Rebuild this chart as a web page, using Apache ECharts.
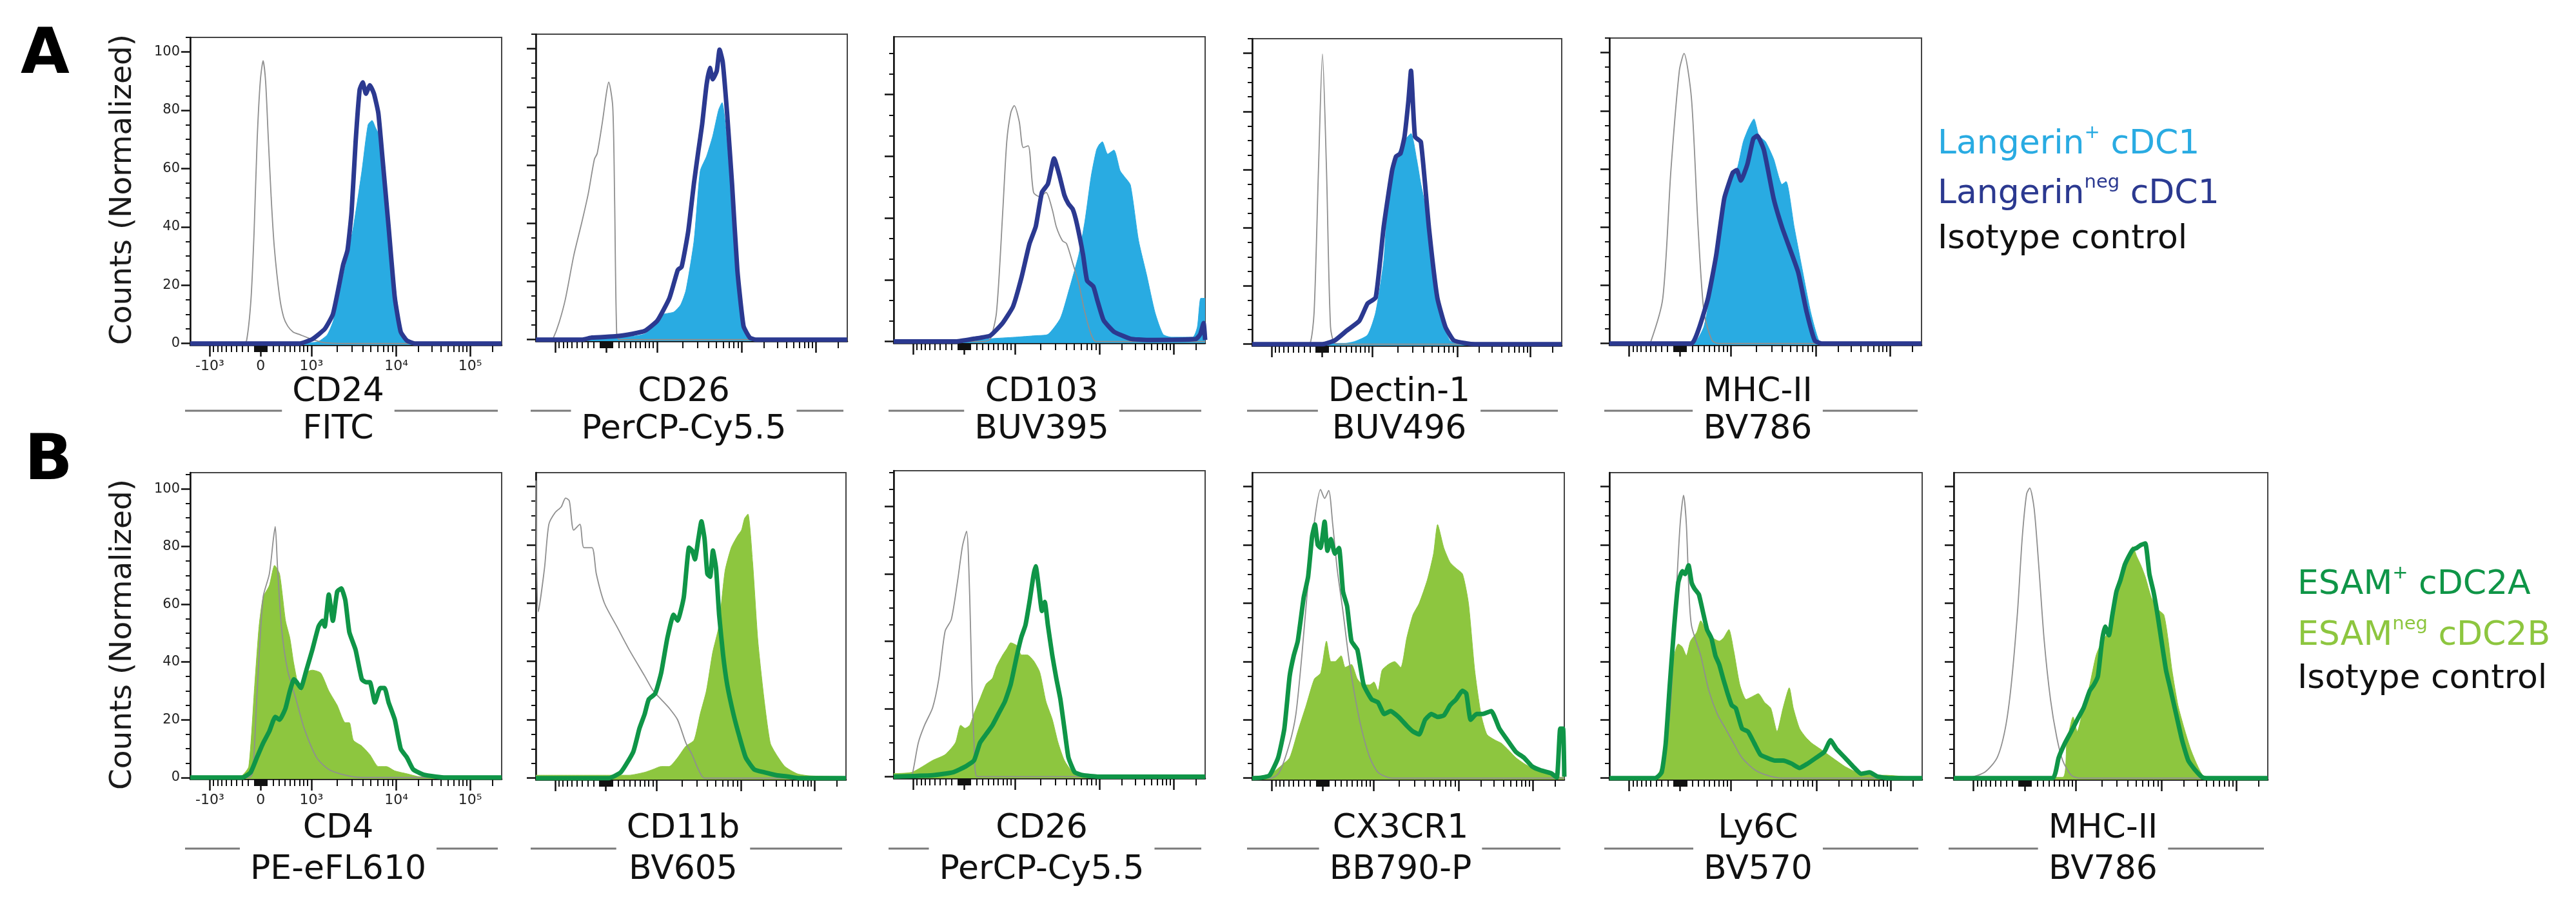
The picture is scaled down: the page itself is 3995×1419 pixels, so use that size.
<!DOCTYPE html>
<html>
<head>
<meta charset="utf-8">
<script src="https://cdn.jsdelivr.net/npm/echarts@6/dist/echarts.min.js"></script>
<style>
html, body { margin: 0; padding: 0; background: #fff; }
#chart { width: 3995px; height: 1419px; }
</style>
</head>
<body>
<div id="chart"></div>
<script>
// x: position along the biexponential axis (% of plot width), y: counts (normalized)
var xMajorPos = [6.3, 22.6, 38.9, 66.2, 89.9];
var xMajorLabels = ['-10³', '0', '10³', '10⁴', '10⁵'];

var rowAMarkers = ['CD24', 'CD26', 'CD103', 'Dectin-1', 'MHC-II'];
var rowAFluors = ['FITC', 'PerCP-Cy5.5', 'BUV395', 'BUV496', 'BV786'];
var rowBMarkers = ['CD4', 'CD11b', 'CD26', 'CX3CR1', 'Ly6C', 'MHC-II'];
var rowBFluors = ['PE-eFL610', 'BV605', 'PerCP-Cy5.5', 'BB790-P', 'BV570', 'BV786'];

// row A: isotype, Langerin+ (filled), Langerin neg (line)
var a1Iso = [[0,0],[17,0],[18.1,1],[19.5,15],[20.5,38],[21.5,70],[22.5,90],[23.4,97],[24.2,90],[25,72],[26,50],[27,33],[28.7,16],[30,9],[31.3,6],[33,4],[35.3,3],[39,1.5],[43,0.3],[50,0],[100,0]];
var a1Pos = [[0,0.3],[38,0.3],[41,0.6],[44,3],[46,8],[48.5,20],[50.5,30],[52.4,40],[55.1,59],[57.1,75],[58.4,76.5],[59.5,74],[60.4,72],[62.4,59],[64.3,37],[66.3,15],[68.3,3],[70.3,0.5],[72,0.3],[100,0.3]];
var a1Neg = [[0,0],[35,0],[39.2,1.5],[43.2,5],[45.8,10],[47.8,20],[49.1,27],[50.5,32],[51.8,45],[53.1,69],[54.4,87],[55.4,89.6],[56.4,85.7],[57.7,88.6],[59,85.7],[60.4,79],[61.7,64],[63.7,40],[65.7,15.6],[67.6,4],[69.6,1],[72.3,0],[100,0]];

var a2Iso = [[0,0],[5,0],[5.6,0.5],[7.5,6],[9.5,14],[12.2,29],[14.8,40.5],[16.8,50],[18.8,62],[19.7,64],[21.4,75],[22.7,85],[23.4,88.5],[24.7,80],[25.3,48],[26,1],[27,0],[100,0]];
var a2Pos = [[0,0.3],[18,0.5],[30,1],[35,2],[38,5],[40.3,8.5],[44.3,9.5],[46.5,12],[48.2,17],[50.8,34],[52.8,58],[54.8,63],[56.8,70],[58.7,79],[59.8,81.5],[61.4,68],[63.4,39],[65.4,14],[67.4,2.5],[69.3,0.5],[100,0.3]];
var a2Neg = [[0,0],[15,0],[18,0.7],[26,1.2],[31,2],[35,3],[39,6.5],[42.9,14.3],[45.6,24],[46.8,25],[48.9,37],[50.8,54],[52.2,65],[53.4,74],[54.8,87.5],[55.9,93.4],[56.8,89.5],[58.1,92.4],[59,99.7],[60,95.5],[61.4,78],[63,53.5],[64.7,24],[66.7,4.6],[68.7,0.7],[70.6,0],[100,0]];

var a3Iso = [[0,0],[29,0],[31,0.8],[33,9.4],[35,41.8],[36.3,64.7],[37.6,74.1],[38.7,76.4],[40.3,71.3],[41.6,62.8],[43.2,63.4],[44.9,48.3],[46.9,46.9],[48.9,48.3],[50.9,42.8],[52.2,37.2],[54.2,32.6],[55.5,31.7],[57.5,25.3],[59.4,18.8],[61.4,9.4],[63.4,2.3],[65,0],[100,0]];
var a3Pos = [[0,0.3],[25,0.3],[31,0.9],[39,1.4],[45.6,1.9],[49.5,2.3],[53.5,7.5],[56.1,16],[59.4,28],[61.4,39],[63.4,53.5],[65.1,62],[66,63.8],[67,64.7],[68.7,60.7],[70.7,62],[72.7,55.3],[74,53.5],[76,50.7],[78.6,32.8],[81.2,21.6],[83.9,9.4],[86.5,2.3],[89.2,1.4],[96,1.4],[97.5,4.7],[98.6,14],[100,14]];
var a3Neg = [[0,0],[20,0],[25.8,0.9],[31,1.9],[35,6],[38.3,11.3],[41,20.6],[43.6,31.7],[45.6,37.2],[47.6,48.3],[49.5,51],[51.5,59.3],[53.2,53.8],[54.8,47.4],[56.1,44.6],[57.5,42.8],[58.8,38.2],[60.8,28.1],[62.1,19.7],[64.1,17.8],[65.4,13.3],[67.4,6.9],[70.7,3.2],[76,0.9],[81.2,0.5],[97,0.8],[98.4,2.3],[99.5,6],[100,0.5]];

var a4Iso = [[0,0],[17,0],[18.7,0.3],[20,11],[21.4,59.7],[22.7,99.7],[24,60],[25.3,6],[26.7,0.3],[30,0],[100,0]];
var a4Pos = [[0,0.3],[30,0.3],[33.3,1],[37.3,3.2],[39.9,11],[42.5,28.7],[43.9,50],[46.5,64],[49.2,69.9],[51.3,72.4],[53.1,63.7],[54.5,55],[55.8,48],[58.5,25.6],[61.1,9],[63.8,1.3],[66,0.3],[100,0.3]];
var a4Neg = [[0,0],[22.7,0],[26.7,1.3],[30.6,4.7],[34.6,8],[37.3,14],[39.9,16],[42.5,40.5],[45.2,59.7],[46.5,64.6],[47.9,65.5],[49.2,71.3],[50.5,84],[51.3,94],[52.6,71.3],[54.5,69.5],[57.1,40],[59.8,16],[62.4,6],[65.1,1.3],[69.1,0.3],[72,0],[100,0]];

var a5Iso = [[0,0],[12,0],[13.2,0.5],[17.1,15.6],[19.7,59.6],[22.4,93.8],[23.9,99.7],[26.3,84],[28.4,40],[30.3,10.7],[32.9,1],[35,0],[100,0]];
var a5Pos = [[0,0.3],[26,0.3],[27.6,0.5],[30.3,5.9],[32.9,20.5],[35.5,40],[38.2,55.7],[40.8,59.6],[42.9,69.4],[44.7,74.3],[46.3,77.2],[47.9,71.4],[50,69.4],[52.6,63.5],[55.3,54.7],[56.6,55.7],[59.2,40],[61.8,25.4],[64.5,10.7],[67.1,1],[69,0.3],[100,0.3]];
var a5Neg = [[0,0],[26.3,0],[28.9,5.9],[31.6,15.6],[34.2,30.3],[36.8,49.9],[39.5,58.7],[40.8,59.6],[42.1,56],[44.2,61.6],[46.1,70.4],[47.4,71.4],[49.5,66.5],[52.6,49.9],[55.3,40],[57.9,32.3],[60.5,24.4],[63.2,10.8],[65.8,1],[68,0],[100,0]];

// row B: isotype, ESAM neg (filled), ESAM+ (line)
var b1Iso = [[0,0],[19,0],[20.1,1.8],[21.5,30],[23.4,62.4],[25.4,70.5],[26.7,82.6],[27.3,86.9],[28,73.5],[29.3,52],[31.3,37],[34,27],[36.6,17],[40.6,6.9],[44.5,2.8],[49.8,0.8],[55,0],[100,0]];
var b1Neg = [[0,0.3],[15,0.3],[16.8,0.8],[18.8,3.8],[20.7,32],[22.1,52.3],[23.4,62.4],[25.4,66.5],[27.1,73.5],[28.7,70.5],[30.6,54.3],[32,48.3],[33.3,39.2],[35.3,30],[37.3,36.4],[39.2,37.2],[41.9,36.2],[44.5,30],[47.2,25],[49.8,19],[51.1,19],[52.4,12.9],[55.1,10.9],[57.7,7.9],[60.4,3.8],[63,3.8],[65.7,2.3],[69.6,1.3],[73.6,0.3],[100,0.3]];
var b1Pos = [[0,0],[16.8,0],[19.4,1.8],[21.4,6.9],[23.4,11.9],[25.4,16],[27.3,21],[28.7,20],[30.6,24],[32,30],[33.3,34],[34.2,33],[35.5,31],[37.3,37.2],[39.2,44.2],[41.2,52.3],[42.5,54.3],[43.2,52.3],[44.5,63.4],[45.8,54.3],[47.2,64.4],[48.5,65.5],[49.8,61.4],[51.1,50.3],[53.1,44.2],[55.1,34],[56.4,33],[57.7,33],[59.3,26],[61,31],[62.4,31],[63.7,26],[65.7,20],[67.6,9.9],[69.6,6.9],[71.6,2.8],[74.9,1],[78.9,0.3],[82,0],[100,0]];

var b2Iso = [[0,102],[0.8,57],[2.8,72],[4.2,87],[6.2,91],[8.2,93],[9.6,96],[10.8,95],[12.2,85],[14.2,87],[15.5,79],[18.1,79],[19.5,70],[22.1,60],[26.1,52],[30.1,44],[35.1,35],[37.8,30],[40.4,27],[43,24],[45.7,20],[48.4,12],[50.4,8],[52.4,3],[54.4,0],[100,0]];
var b2Neg = [[0,1],[30,1],[35.1,2],[37.8,3],[40.4,4],[43,4],[45.7,7],[48.4,11],[51,13],[53,22],[55,30],[57,43],[59,52],[61,71],[63,79],[65,83],[66.3,85],[67.3,89],[68.4,90.5],[69.9,74],[71.6,47],[73.6,27],[75.6,12],[77.6,8],[80.3,4],[84.3,1.5],[88.3,0.8],[100,0.5]];
var b2Pos = [[0,0],[23.5,0],[27.4,2],[31.4,9],[33.4,17],[35.1,22],[36.4,27],[38.5,29],[40.4,36],[42.4,48],[44.4,56],[45.7,54],[47.7,62],[49.4,79],[50.4,78],[51.3,75],[52.4,82],[53.4,88],[54.4,82],[55.3,70],[56.2,69],[57.1,78],[58.1,72],[59.1,56],[60.4,42],[61.7,32],[63.7,22],[65.7,14],[67.7,7],[70.4,3],[73.6,2],[77.6,1],[81.6,0.5],[85,0],[100,0]];

var b3Iso = [[0,0],[5,0],[5.9,0.4],[7.9,10],[9.9,15.2],[12.5,20.4],[14.5,29],[16.5,43],[18.5,46.5],[20.5,57.8],[22.1,68.3],[23.4,72.6],[24.4,53.5],[25.1,27.4],[25.8,10],[26.8,0],[100,0]];
var b3Neg = [[0,0.9],[5.9,1.3],[12.5,4.8],[16.5,6.5],[19.8,10],[21.5,15.2],[22.9,14.3],[24.4,15.2],[25.8,18.7],[27.7,23],[29.7,27.4],[31.7,29.1],[33,32.6],[35,36],[36.3,37.8],[37.6,39.6],[39.6,38.7],[41,36],[42.9,36],[44.9,34.3],[46.9,30.9],[48.9,22.2],[50.9,17],[52.8,10],[54.8,4.8],[57.5,1.3],[60.1,0.4],[100,0.3]];
var b3Pos = [[0,0],[12.5,0.4],[19.1,1.3],[23.1,3],[25.8,4.8],[27.7,10],[29.7,12.6],[31.7,15.2],[33.7,18.7],[35.7,22.2],[37.6,27.4],[39.6,36],[41,41.3],[42.3,44.8],[43.6,51.7],[44.9,59.6],[45.6,62.2],[46.6,55.9],[47.6,49],[48.5,51.7],[49.5,44.8],[50.9,36],[52.2,29.1],[53.5,23],[54.8,14.3],[56.1,5.7],[58.1,1.3],[60.8,0.4],[65.4,0],[100,0]];

var b4Iso = [[0,0],[6,0],[8.7,2],[12,12],[14,22],[15.9,42],[17.9,67],[19.8,87],[21.9,99],[23.2,96],[24.5,98.7],[25.8,87],[27.2,72],[29.1,57],[31.1,40],[33.1,27],[35,17],[37.7,7],[40.3,2],[43.6,0.2],[46,0],[100,0]];
var b4Neg = [[0,0.3],[1.7,0.5],[6,1.5],[9,4],[12,7],[14.6,16],[17.3,25],[19.9,34],[21.9,36],[23.8,47],[25.2,40],[26.5,40],[28.5,42],[29.8,38],[31.8,39],[33.7,34],[35.7,32],[37.7,32],[39,33],[40.3,30],[41.6,37],[43.6,39],[45.6,40],[47.6,38],[49.5,48],[51.5,56],[53.5,60],[56.1,68],[58.1,77],[59.4,87],[61.4,79],[63.4,74],[65.3,72],[67.4,70],[69.3,60],[71.3,37],[73.3,22],[75.2,15],[77.9,13],[79.8,12],[81.8,10],[84.5,7],[87.1,5],[89.7,3.5],[92.4,2.7],[95,1.7],[97.6,0.7],[98.9,0.3],[100,0.3]];
var b4Pos = [[0,0],[3,0.2],[5.6,1],[8.3,7],[10.3,17],[12,35],[13.3,42],[14.6,47],[16.5,62],[17.9,69],[19.2,83],[20.1,87],[21,80],[21.9,79],[23.2,88],[24.1,78],[25.2,82],[26.5,77],[27.8,79],[29.1,64],[30.4,59],[31.8,47],[33.7,44],[35.7,32],[38.3,27],[40.3,26],[42.3,22],[44.3,23],[46.9,21],[49.5,18],[51.5,16],[53.5,15],[55.4,20],[57.4,22],[59.4,21],[61.4,21.5],[63.4,25],[65.3,27],[67.4,30],[68.6,29],[70,20],[71.9,22],[73.9,22],[76.6,23],[79.2,17],[81.8,13],[84.5,9],[87.1,7],[89.7,4],[92.4,2.7],[95.7,1.7],[97.6,0.2],[98.7,17],[99.6,17],[100,0.5]];

var b5Iso = [[0,0],[15,0],[16.1,0.5],[19.3,22],[21.3,62],[22.6,87],[23.7,97],[24.6,87],[25.5,62],[26.3,52],[29.2,42],[31.8,30],[34.5,22],[37.1,17],[39.7,12],[42.4,7],[46.3,3],[50.3,1],[55,0],[100,0]];
var b5Neg = [[0,0.3],[14.7,0.5],[17.4,7],[19.3,27],[20.7,42],[22,46],[23.3,45],[24.6,42],[25.9,47],[27.9,50],[29.2,54],[31.2,50],[33.2,48],[35.1,47],[36.4,48],[38.2,51],[39.7,44],[41.7,32],[43.7,27],[45.7,28],[47.6,29],[49.6,26],[51.6,24],[53.6,16],[55.5,24],[57.5,31],[58.8,24],[60.8,17],[62.8,14],[64.7,12],[67.4,10],[70,8],[72.6,6],[75.3,4],[79.2,2],[84.5,1],[88.4,1],[95,0.5],[100,0.3]];
var b5Pos = [[0,0],[14.7,0],[16.7,2],[18,12],[19.3,32],[20.7,52],[22,67],[23.3,71],[24.2,70],[25.3,73],[26.3,67],[27.2,65],[28.6,63],[29.9,57],[31.2,51],[32.6,48],[33.9,42],[35.1,39],[36.4,34],[37.8,29],[39.1,25],[40.4,24],[42.4,17],[44.3,16],[46.3,12],[48.3,8],[50.3,7],[52.9,6],[55.5,6],[58.2,5],[60.8,3.5],[63.4,5],[66.1,7],[68.7,9],[70.7,13],[72.6,10],[75.3,7],[77.9,4],[80.5,1.5],[83.2,2],[85.8,0.5],[89.7,0],[100,0]];

var b6Iso = [[0,0],[3.3,0],[9.8,2],[13.8,7],[16.4,17],[18.3,32],[20.3,57],[21.8,82.4],[23.2,97.5],[24.2,99.5],[25.6,92.5],[27.1,72.4],[28.8,47.2],[30.8,27],[32.8,14],[34.7,6],[37.4,1],[40,0],[100,0]];
var b6Neg = [[0,0.3],[34.7,0.3],[36,12],[38,21],[39.3,16],[41.3,24],[43.3,32],[45.3,42],[47.2,47],[49.2,50],[51.2,60],[53.1,69],[55.1,75],[57,79.4],[58.3,76],[59.6,73],[61,69],[62.9,62],[64.9,58],[66.9,56],[68.2,48],[69.5,37],[71.4,25],[73.4,17],[75.4,10],[77.3,5],[79.3,1],[81.9,0.3],[100,0.3]];
var b6Pos = [[0,0],[31.5,0],[33.4,7],[35.4,12],[37.4,16],[39.3,20],[41.3,24],[43.3,30],[44.6,32],[45.9,35],[47.2,47],[48.2,52],[49.4,49],[50.5,56],[51.8,64],[53.1,68],[54.4,73],[55.7,76],[57,78.4],[58.3,79],[59.6,80],[61,80.5],[62.3,70],[63.6,64],[64.9,56],[66.3,46],[67.6,37],[68.9,31],[70.8,22],[72.7,13],[74.7,6],[76.7,3],[79.3,0.2],[82,0],[100,0]];

var FONT = '"DejaVu Sans", "Noto Sans", sans-serif';
var LIGHT_BLUE = '#29abe2', NAVY = '#2b3990', LIGHT_GREEN = '#8dc63f', DARK_GREEN = '#0f9547', ISO_GRAY = '#8f8f8f';

// biexponential-like position for minor ticks
function biex(v) {
    if (v >= 1e4) return 66.2 + 23.7 * Math.log10(v / 1e4);
    if (v >= 1e3) return 38.9 + 27.3 * Math.log10(v / 1e3);
    var w = 700;
    return 22.6 + 16.3 * Math.asinh(v / w) / Math.asinh(1000 / w);
}
var xMinorPos = [];
for (var k = 1; k <= 9; k++) {
    [10, 100].forEach(function (d) {
        xMinorPos.push(biex(k * d), biex(-k * d));
    });
    if (k >= 2) {
        xMinorPos.push(biex(k * 1000), biex(k * 10000));
    }
}
xMinorPos.push(biex(200000));
xMinorPos = xMinorPos.filter(function (p) { return p > 0 && p < 100; });

var panels = [
    {iso: a1Iso, fill: a1Pos, line: a1Neg, row: 'A', l: 295, r: 778, t: 58, b: 535, yMax: 105, minor: 5},
    {iso: a2Iso, fill: a2Pos, line: a2Neg, row: 'A', l: 831, r: 1314, t: 53, b: 529, yMax: 105, minor: 5},
    {iso: a3Iso, fill: a3Pos, line: a3Neg, row: 'A', l: 1386, r: 1869, t: 57, b: 532, yMax: 98.7, minor: 20 / 3},
    {iso: a4Iso, fill: a4Pos, line: a4Neg, row: 'A', l: 1942, r: 2422, t: 60, b: 536, yMax: 105, minor: 5},
    {iso: a5Iso, fill: a5Pos, line: a5Neg, row: 'A', l: 2496, r: 2980, t: 59, b: 535, yMax: 105, minor: 5},
    {iso: b1Iso, fill: b1Neg, line: b1Pos, row: 'B', l: 295, r: 778, t: 733, b: 1208, yMax: 105.6, minor: 5},
    {iso: b2Iso, fill: b2Neg, line: b2Pos, row: 'B', l: 831, r: 1312, t: 733, b: 1209, yMax: 104.7, minor: 5},
    {iso: b3Iso, fill: b3Neg, line: b3Pos, row: 'B', l: 1386, r: 1869, t: 730, b: 1207, yMax: 90.5, minor: 5},
    {iso: b4Iso, fill: b4Neg, line: b4Pos, row: 'B', l: 1942, r: 2426, t: 733, b: 1209, yMax: 104.8, minor: 5},
    {iso: b5Iso, fill: b5Neg, line: b5Pos, row: 'B', l: 2496, r: 2981, t: 733, b: 1209, yMax: 104.8, minor: 5},
    {iso: b6Iso, fill: b6Neg, line: b6Pos, row: 'B', l: 3030, r: 3517, t: 733, b: 1209, yMax: 104.8, minor: 5}
];

var grids = [], xAxes = [], yAxes = [], series = [], graphics = [];

panels.forEach(function (p, i) {
    var first = (i === 0 || i === 5);
    var isA = p.row === 'A';
    grids.push({
        left: p.l, top: p.t, width: p.r - p.l, height: p.b - p.t,
        show: true, borderColor: '#444', borderWidth: 2, backgroundColor: 'transparent'
    });
    var yMajor = [], yMinor = [];
    for (var v = 0; v <= p.yMax; v += 20) yMajor.push(v);
    for (var m = p.minor; m <= p.yMax; m += p.minor) {
        if (Math.abs(m / 20 - Math.round(m / 20)) > 0.01) yMinor.push(m);
    }
    xAxes.push({
        type: 'value', gridIndex: i, min: 0, max: 100, position: 'bottom',
        axisLine: {show: true, onZero: false, lineStyle: {color: '#111', width: 2.5}},
        axisTick: {show: true, customValues: xMajorPos, length: 18, lineStyle: {color: '#111', width: 2.5}},
        axisLabel: {
            show: first, customValues: xMajorPos, margin: 22,
            fontSize: 22, fontFamily: FONT, color: '#222',
            formatter: function (val) {
                var best = 0;
                xMajorPos.forEach(function (q, j) {
                    if (Math.abs(q - val) < Math.abs(xMajorPos[best] - val)) best = j;
                });
                return xMajorLabels[best];
            }
        },
        splitLine: {show: false}
    });
    xAxes.push({
        type: 'value', gridIndex: i, min: 0, max: 100, position: 'bottom',
        axisLine: {show: false, onZero: false},
        axisTick: {show: true, customValues: xMinorPos, length: 11, lineStyle: {color: '#111', width: 2}},
        axisLabel: {show: false},
        splitLine: {show: false}
    });
    yAxes.push({
        type: 'value', gridIndex: i, min: -0.5, max: p.yMax, position: 'left',
        axisLine: {show: true, onZero: false, lineStyle: {color: '#111', width: 2.5}},
        axisTick: {show: true, customValues: yMajor, length: 14, lineStyle: {color: '#111', width: 2.5}},
        axisLabel: {show: first, customValues: yMajor, margin: 16, fontSize: 21, fontFamily: FONT, color: '#222'},
        splitLine: {show: false}
    });
    yAxes.push({
        type: 'value', gridIndex: i, min: -0.5, max: p.yMax, position: 'left',
        axisLine: {show: false, onZero: false},
        axisTick: {show: true, customValues: yMinor, length: 7, lineStyle: {color: '#111', width: 2}},
        axisLabel: {show: false},
        splitLine: {show: false}
    });
    var fillColor = isA ? LIGHT_BLUE : LIGHT_GREEN;
    var lineColor = isA ? NAVY : DARK_GREEN;
    series.push({
        type: 'line', xAxisIndex: 2 * i, yAxisIndex: 2 * i, data: p.fill,
        symbol: 'none', smooth: 0.2, z: 2,
        lineStyle: {width: 1, color: fillColor},
        areaStyle: {color: fillColor, opacity: 1, origin: 'start'}
    });
    series.push({
        type: 'line', xAxisIndex: 2 * i, yAxisIndex: 2 * i, data: p.iso,
        symbol: 'none', smooth: 0.25, z: 3,
        lineStyle: {width: 1.8, color: ISO_GRAY}
    });
    series.push({
        type: 'line', xAxisIndex: 2 * i, yAxisIndex: 2 * i, data: p.line,
        symbol: 'none', smooth: 0.15, z: 4,
        lineStyle: {width: 7, color: lineColor, join: 'round'}
    });
});

// labels under each panel
var measureCtx = document.createElement('canvas').getContext('2d');
function textWidth(s, size) {
    measureCtx.font = size + 'px ' + FONT;
    return measureCtx.measureText(s).width;
}
function addText(x, y, text, size, color, extra) {
    var el = {
        type: 'text', x: x, y: y, silent: true,
        style: {
            text: text, fontSize: size, fontFamily: FONT, fill: color,
            align: 'center', verticalAlign: 'middle',
            textAlign: 'center', textVerticalAlign: 'middle'
        }
    };
    if (extra) {
        for (var key in extra) {
            if (key === 'style') {
                for (var s in extra.style) el.style[s] = extra.style[s];
            } else {
                el[key] = extra[key];
            }
        }
    }
    graphics.push(el);
}
var markers = rowAMarkers.concat(rowBMarkers);
var fluors = rowAFluors.concat(rowBFluors);
panels.forEach(function (p, i) {
    var isA = p.row === 'A';
    var cx = (p.l + p.r) / 2 - 12;
    var yMarker = isA ? 608 : 1285;
    var yLine = isA ? 637 : 1316;
    var yFluor = isA ? 666 : 1349;
    addText(cx, yMarker, markers[i], 52, '#111');
    addText(cx, yFluor, fluors[i], 52, '#111');
    var gap = Math.max(textWidth(markers[i], 52), textWidth(fluors[i], 52)) / 2 + 16;
    graphics.push({type: 'line', silent: true, shape: {x1: p.l - 8, y1: yLine, x2: cx - gap, y2: yLine}, style: {stroke: '#7a7a7a', lineWidth: 3}});
    graphics.push({type: 'line', silent: true, shape: {x1: cx + gap, y1: yLine, x2: p.r - 6, y2: yLine}, style: {stroke: '#7a7a7a', lineWidth: 3}});
});

// panel letters and y titles
addText(32, 88, 'A', 98, '#000', {style: {fontWeight: 'bold', align: 'left', textAlign: 'left'}});
addText(38, 718, 'B', 98, '#000', {style: {fontWeight: 'bold', align: 'left', textAlign: 'left'}});
addText(191, 294, 'Counts (Normalized)', 47, '#1a1a1a', {rotation: Math.PI / 2});
addText(191, 984, 'Counts (Normalized)', 47, '#1a1a1a', {rotation: Math.PI / 2});

// legends
var legendRich = function (color) {
    return {
        a: {fontSize: 52, fontFamily: FONT, fill: color, color: color, lineHeight: 64},
        s: {fontSize: 29, fontFamily: FONT, fill: color, color: color, lineHeight: 36, verticalAlign: 'top'}
    };
};
function addLegend(x, y, text, color) {
    graphics.push({
        type: 'text', x: x, y: y, silent: true,
        style: {
            text: text, rich: legendRich(color), fill: color,
            align: 'left', verticalAlign: 'middle', textAlign: 'left', textVerticalAlign: 'middle'
        }
    });
}
addLegend(3005, 224, '{a|Langerin}{s|+}{a| cDC1}', LIGHT_BLUE);
addLegend(3005, 301, '{a|Langerin}{s|neg}{a| cDC1}', NAVY);
addLegend(3005, 371, '{a|Isotype control}', '#111');
addLegend(3563, 907, '{a|ESAM}{s|+}{a| cDC2A}', DARK_GREEN);
addLegend(3563, 986, '{a|ESAM}{s|neg}{a| cDC2B}', LIGHT_GREEN);
addLegend(3563, 1053, '{a|Isotype control}', '#111');

var myChart = echarts.init(document.getElementById('chart'));
var option = {
    animation: false,
    backgroundColor: '#fff',
    grid: grids,
    xAxis: xAxes,
    yAxis: yAxes,
    series: series,
    graphic: graphics
};
myChart.setOption(option);
window.onresize = myChart.resize;
</script>
</body>
</html>
